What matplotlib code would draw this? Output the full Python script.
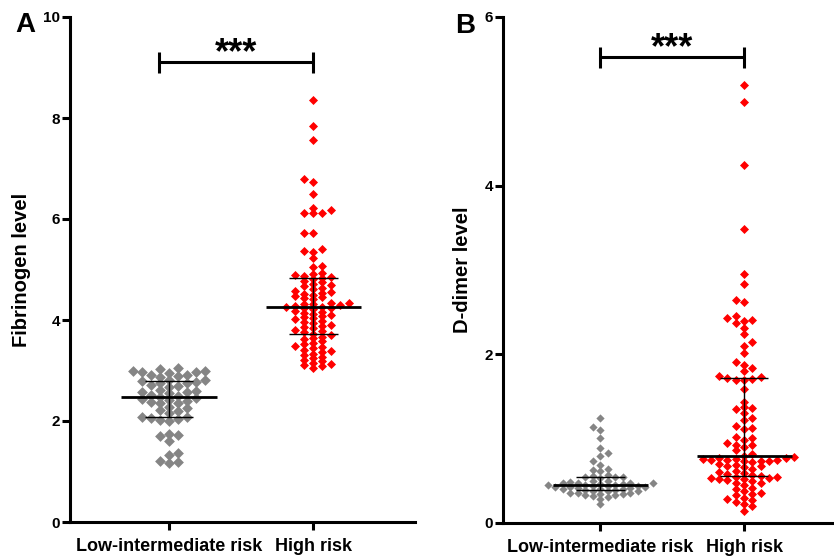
import numpy as np
import matplotlib
matplotlib.use("Agg")
import matplotlib.pyplot as plt

plt.rcParams['font.family'] = ['Liberation Sans', 'DejaVu Sans']
plt.rcParams['font.weight'] = 'bold'

# data
groups = ["Low-intermediate risk", "High risk"]

fib_low = [3.05, 3.02, 3.00, 3.00, 2.98, 2.98, 2.95, 2.92, 2.92, 2.90, 2.88,
           2.82, 2.82, 2.80, 2.78, 2.76, 2.75, 2.72, 2.70, 2.68,
           2.62, 2.60, 2.58, 2.57, 2.55, 2.52, 2.50, 2.48,
           2.45, 2.43, 2.42, 2.40, 2.38, 2.36, 2.35,
           2.28, 2.25, 2.22, 2.20, 2.15,
           2.08, 2.07, 2.05, 2.04, 2.02, 2.00,
           1.75, 1.72, 1.70, 1.60,
           1.36, 1.32, 1.21, 1.19, 1.17]

fib_high = [8.36, 7.84, 7.56, 6.79, 6.74, 6.50, 6.21, 6.18, 6.11, 6.11, 6.11,
            5.72, 5.72, 5.41, 5.37, 5.35, 5.22, 5.06, 5.04,
            4.94, 4.92, 4.90, 4.88, 4.86, 4.84, 4.82,
            4.78, 4.75, 4.72, 4.70, 4.67, 4.64, 4.62,
            4.58, 4.56, 4.54, 4.52, 4.50, 4.47, 4.45, 4.43, 4.41,
            4.33, 4.33, 4.32, 4.31, 4.30, 4.28, 4.26, 4.25, 4.24, 4.23, 4.22,
            4.18, 4.16, 4.14, 4.12, 4.10, 4.07, 4.05, 4.03, 4.01,
            3.98, 3.96, 3.94, 3.91, 3.88, 3.86, 3.84, 3.81,
            3.78, 3.76, 3.73, 3.70, 3.67, 3.64, 3.62,
            3.58, 3.55, 3.52, 3.49, 3.46, 3.44, 3.41,
            3.38, 3.36, 3.33, 3.30, 3.27, 3.24, 3.21,
            3.18, 3.15, 3.12, 3.10, 3.08, 3.05]

dd_low = [1.24, 1.14, 1.10, 1.01, 0.89, 0.83, 0.79, 0.73, 0.69, 0.64, 0.63, 0.62,
          0.57, 0.56, 0.55, 0.55, 0.54, 0.53,
          0.50, 0.50, 0.49, 0.48, 0.48, 0.47, 0.47,
          0.46, 0.46, 0.45, 0.45, 0.45, 0.44, 0.44, 0.44, 0.43, 0.43, 0.43, 0.42,
          0.41, 0.40, 0.40, 0.40, 0.39, 0.39, 0.38, 0.38, 0.38,
          0.36, 0.35, 0.35, 0.34, 0.34, 0.33, 0.33, 0.32, 0.31,
          0.28, 0.22]

dd_high = [5.19, 4.99, 4.24, 3.49, 2.95, 2.83, 2.64, 2.62, 2.45, 2.43, 2.41, 2.39,
           2.37, 2.31, 2.24, 2.15, 2.10, 2.02, 1.91, 1.87, 1.84, 1.80, 1.74, 1.73,
           1.72, 1.71, 1.70, 1.70,
           1.59, 1.44, 1.37, 1.36, 1.35, 1.30, 1.24, 1.22, 1.15, 1.13, 1.12,
           1.02, 1.01, 0.99, 0.95, 0.93, 0.92, 0.90, 0.86, 0.82, 0.80,
           0.78, 0.77, 0.77, 0.76, 0.76, 0.75, 0.75, 0.75, 0.74, 0.74, 0.73, 0.72,
           0.70, 0.69, 0.68, 0.67, 0.66, 0.64, 0.62, 0.60, 0.59, 0.58, 0.57, 0.56,
           0.54, 0.54, 0.53, 0.53, 0.52, 0.52, 0.51, 0.50, 0.48, 0.47, 0.45, 0.42,
           0.40, 0.38, 0.36, 0.34, 0.33, 0.30, 0.28, 0.27, 0.25, 0.22, 0.20, 0.14]

W, H = 834, 557
GRAY = '#858585'
RED = '#ff0000'


def swarm_x(ax, center, vals, row_px, col_px):
    # column scatter: each point takes the slot nearest the centre that has
    # no other point within row_px vertically
    vals = np.asarray(vals, float)
    y_px = ax.transData.transform(np.column_stack([np.zeros_like(vals), vals]))[:, 1]
    x_unit = ax.transData.transform([[1, 0]])[0, 0] - ax.transData.transform([[0, 0]])[0, 0]
    order = np.argsort(y_px)
    xs = np.full(len(vals), float(center))
    placed = {}
    flip = 1
    for idx in order:
        y = y_px[idx]
        k = 0
        while True:
            cands = [0] if k == 0 else [flip * k, -flip * k]
            free = [c for c in cands
                    if all(abs(y - yy) >= row_px for yy in placed.get(c, []))]
            if free:
                slot = free[0]
                break
            k += 1
        if slot != 0:
            flip = -flip
        placed.setdefault(slot, []).append(y)
        xs[idx] = center + slot * col_px / x_unit
    return xs


def stats_lines(ax, c, vals):
    q1, med, q3 = np.percentile(vals, [25, 50, 75])
    ax.hlines(med, c - 0.33, c + 0.33, color='black', lw=2.0, zorder=4)
    ax.hlines([q1, q3], c - 0.17, c + 0.17, color='black', lw=1.0, zorder=4)
    ax.vlines(c, q1, q3, color='black', lw=1.0, zorder=4)


def style_axes(ax, ymax, step):
    for s in ['top', 'right']:
        ax.spines[s].set_visible(False)
    for s in ['left', 'bottom']:
        ax.spines[s].set_linewidth(2.2)
    ax.set_ylim(0, ymax)
    ax.set_yticks(np.arange(0, ymax + 0.01, step))
    ax.set_xticks([0, 1])
    ax.set_xticklabels(groups)
    ax.tick_params(axis='y', length=5.8, width=2.2, pad=1.5, labelsize=11)
    ax.tick_params(axis='x', length=5.8, width=2.2, pad=6, labelsize=13)


def sig_bar(ax, x0, x1, y, cap, ytxt):
    ax.hlines(y, x0, x1, color='black', lw=2.2, clip_on=False)
    ax.vlines([x0, x1], y - cap, y + cap, color='black', lw=2.2, clip_on=False)
    ax.text((x0 + x1) / 2, ytxt, '***', ha='center', va='center', fontsize=26, fontweight='bold')


fig = plt.figure(figsize=(W / 100, H / 100), dpi=100)
axA = fig.add_axes([70 / W, 1 - 522 / H, (415 - 70) / W, (522 - 17) / H])
axB = fig.add_axes([503 / W, 1 - 523 / H, (834 - 503) / W, (523 - 17) / H])

axA.set_xlim(-0.6875, 1.708)
axB.set_xlim(-0.674, 1.625)
style_axes(axA, 10, 2)
style_axes(axB, 6, 2)

# panel A
xa0 = swarm_x(axA, 0, fib_low, 6.5, 9)
xa1 = swarm_x(axA, 1, fib_high, 4.4, 9)
axA.scatter(xa0, fib_low, marker='D', s=5.5 ** 2, color=GRAY, linewidths=0, zorder=2)
axA.scatter(xa1, fib_high, marker='D', s=4.6 ** 2, color=RED, linewidths=0, zorder=2)
stats_lines(axA, 0, fib_low)
stats_lines(axA, 1, fib_high)
sig_bar(axA, -0.07, 1.0, 9.10, 0.2, 9.27)

# panel B
xb0 = swarm_x(axB, 0, dd_low, 5, 7.5)
xb1 = swarm_x(axB, 1, dd_high, 5.5, 8.3)
axB.scatter(xb0, dd_low, marker='D', s=4.2 ** 2, color=GRAY, linewidths=0, zorder=2)
axB.scatter(xb1, dd_high, marker='D', s=4.6 ** 2, color=RED, linewidths=0, zorder=2)
stats_lines(axB, 0, dd_low)
stats_lines(axB, 1, dd_high)
sig_bar(axB, 0.0, 1.0, 5.52, 0.12, 5.62)

fig.text(22 / W, 1 - 270 / H, 'Fibrinogen level', rotation=90, ha='center', va='center',
         fontsize=14.5, fontweight='bold')
fig.text(462 / W, 1 - 270 / H, 'D-dimer level', rotation=90, ha='center', va='center',
         fontsize=14.5, fontweight='bold')
fig.text(25 / W, 1 - 25 / H, 'A', ha='center', va='center', fontsize=20, fontweight='bold')
fig.text(465 / W, 1 - 26 / H, 'B', ha='center', va='center', fontsize=20, fontweight='bold')

fig.savefig('out.png', dpi=100)
